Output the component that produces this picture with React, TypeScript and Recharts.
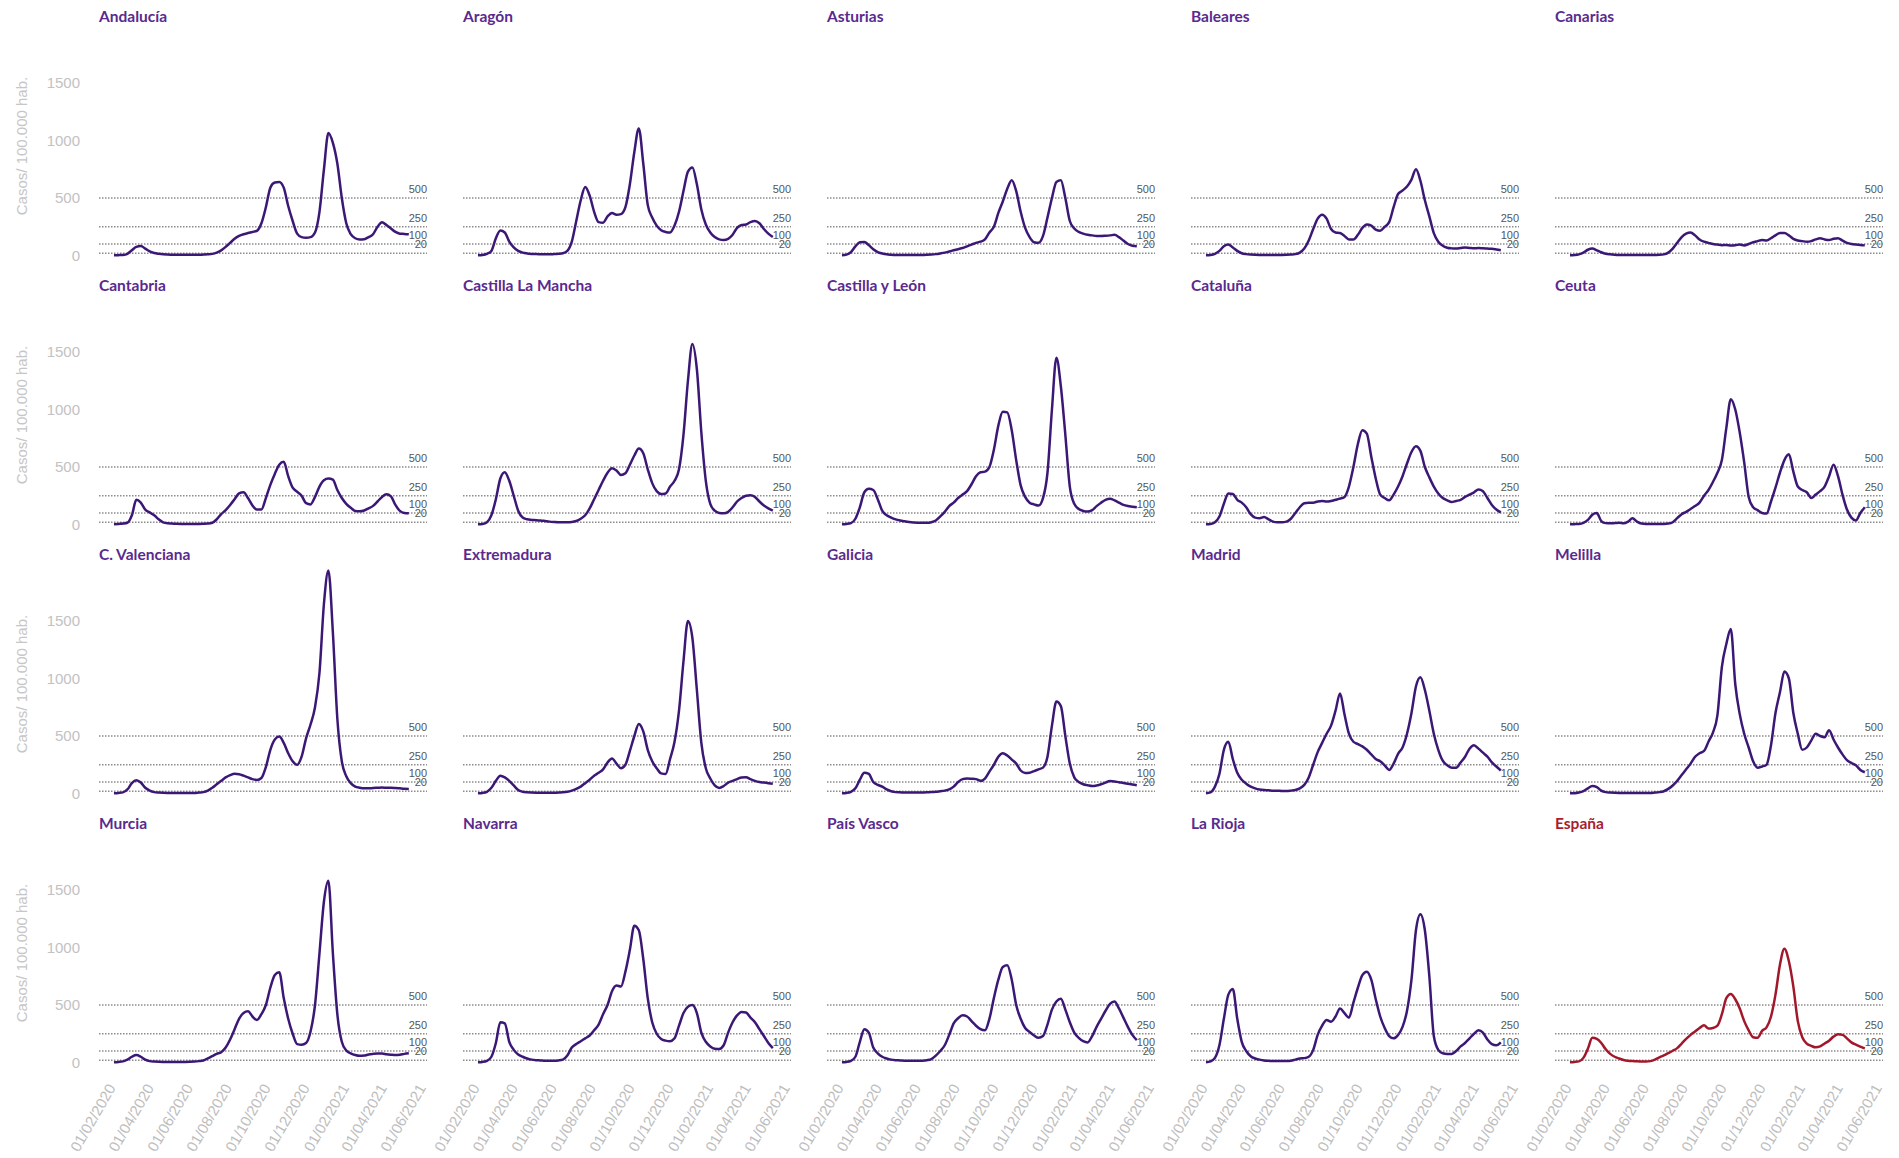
import React from 'react';
import { LineChart, Line, XAxis, YAxis, ReferenceLine } from 'recharts';

// Weekly values (casos / 100.000 hab.), one point every 7 days from 12/02/2020
const andalucia = [
    2, 3, 5, 15, 45, 75, 82, 60, 35, 22,
    15, 10, 8, 7, 6, 6, 6, 6, 6, 6,
    8, 10, 14, 25, 45, 75, 110, 145, 170, 185,
    195, 205, 215, 280, 420, 590, 635, 640, 590, 430,
    300, 190, 160, 155, 160, 200, 380, 750, 1065, 980,
    800, 500, 280, 185, 150, 140, 142, 160, 185, 250,
    290, 265, 235, 205, 190, 188, 185];
const aragon = [
    2, 5, 15, 40, 150, 218, 200, 120, 70, 40,
    25, 18, 14, 12, 11, 10, 10, 12, 15, 20,
    40, 120, 300, 480, 595, 520, 380, 290, 285, 340,
    370, 355, 360, 420, 620, 900, 1105, 800, 440, 330,
    260, 220, 205, 200, 260, 380, 560, 730, 765, 620,
    400, 270, 200, 160, 140, 135, 145, 180, 240, 265,
    270, 290, 300, 280, 230, 190, 160];
const asturias = [
    2, 8, 30, 80, 115, 118, 90, 55, 30, 18,
    10, 7, 5, 4, 4, 4, 4, 4, 5, 6,
    8, 12, 18, 25, 35, 45, 55, 65, 80, 95,
    110, 120, 140, 200, 250, 370, 470, 580, 655, 560,
    380, 240, 160, 115, 110, 170, 330, 500, 640, 655,
    500, 300, 235, 205, 190, 180, 175, 170, 170, 172,
    175, 180, 160, 130, 100, 85, 80];
const baleares = [
    2, 5, 15, 40, 80, 95, 70, 40, 20, 12,
    8, 6, 5, 5, 5, 5, 5, 5, 6, 8,
    12, 25, 60, 130, 230, 320, 355, 320, 230, 200,
    195, 170, 140, 140, 180, 240, 270, 260, 225, 215,
    250, 290, 420, 535, 565, 600, 660, 750, 650, 480,
    340, 195, 120, 85, 68, 62, 60, 65, 70, 66,
    62, 65, 62, 60, 58, 52, 45];
const canarias = [
    2, 4, 10, 25, 50, 60, 45, 28, 15, 10,
    7, 5, 4, 4, 4, 4, 4, 4, 4, 5,
    6, 10, 25, 60, 110, 160, 190, 200, 175, 140,
    120, 110, 100, 95, 90, 92, 88, 90, 95, 88,
    100, 115, 125, 135, 130, 150, 175, 195, 195, 175,
    145, 130, 125, 120, 125, 140, 150, 140, 135, 145,
    150, 130, 110, 100, 95, 92, 88];
const cantabria = [
    2, 5, 8, 15, 80, 215, 190, 130, 105, 80,
    45, 18, 10, 8, 6, 5, 5, 5, 5, 5,
    6, 8, 15, 45, 90, 125, 170, 220, 270, 280,
    230, 165, 130, 130, 230, 345, 440, 520, 545, 420,
    320, 285, 250, 185, 175, 240, 330, 385, 400, 390,
    300, 230, 180, 145, 118, 115, 122, 140, 162, 200,
    240, 262, 245, 170, 118, 100, 97];
const castillaLaMancha = [
    2, 5, 20, 80, 220, 400, 455, 380, 250, 120,
    60, 45, 40, 38, 35, 30, 25, 22, 20, 20,
    20, 22, 30, 50, 80, 140, 220, 300, 380, 450,
    490, 470, 430, 445, 520, 600, 660, 620, 480, 360,
    290, 265, 270, 330, 380, 480, 780, 1250, 1570, 1350,
    800, 380, 180, 120, 100, 98, 110, 150, 200, 230,
    250, 255, 240, 200, 165, 140, 120];
const castillaYLeon = [
    2, 5, 12, 50, 150, 280, 310, 300, 220, 120,
    80, 60, 45, 35, 28, 22, 18, 16, 15, 15,
    20, 35, 70, 110, 160, 190, 230, 260, 290, 350,
    420, 455, 460, 500, 650, 860, 980, 975, 820, 560,
    340, 240, 190, 175, 165, 230, 450, 1000, 1450, 1200,
    780, 330, 180, 135, 118, 112, 125, 160, 190, 215,
    225, 210, 190, 170, 160, 155, 150];
const cataluna = [
    2, 5, 20, 70, 180, 270, 265, 215, 190, 150,
    90, 60, 55, 65, 45, 25, 20, 20, 25, 50,
    100, 150, 185, 190, 190, 200, 205, 200, 205, 215,
    225, 240, 330, 500, 700, 820, 790, 590, 400, 260,
    230, 210, 260, 330, 420, 530, 630, 680, 640, 500,
    410, 330, 270, 230, 210, 195, 205, 215, 240, 260,
    280, 305, 290, 230, 170, 130, 105];
const ceuta = [
    2, 3, 5, 15, 40, 85, 100, 30, 12, 10,
    12, 15, 10, 25, 55, 25, 8, 5, 5, 5,
    5, 5, 8, 20, 55, 90, 110, 135, 160, 190,
    250, 300, 370, 450, 560, 840, 1090, 1000, 800, 540,
    240, 150, 125, 100, 95, 200, 320, 450, 560, 610,
    460, 330, 300, 280, 230, 260, 290, 330, 420, 520,
    420, 260, 130, 60, 35, 100, 150];
const valenciana = [
    2, 5, 10, 35, 90, 115, 95, 50, 25, 12,
    8, 6, 5, 5, 5, 5, 5, 5, 5, 8,
    12, 25, 50, 80, 110, 140, 160, 172, 168, 155,
    140, 125, 118, 135, 230, 380, 470, 495, 440, 350,
    280, 250, 320, 480, 600, 750, 1050, 1650, 1940, 1400,
    650, 280, 150, 90, 60, 50, 45, 45, 48, 50,
    52, 50, 50, 48, 45, 42, 40];
const extremadura = [
    2, 5, 15, 50, 110, 155, 140, 110, 70, 30,
    15, 10, 8, 7, 7, 6, 6, 6, 8, 10,
    15, 25, 40, 60, 90, 120, 155, 180, 210, 270,
    305, 260, 220, 250, 370, 500, 605, 540, 380, 280,
    220, 175, 170, 300, 450, 720, 1150, 1500, 1350, 900,
    440, 220, 130, 70, 48, 65, 95, 110, 125, 140,
    142, 125, 110, 100, 95, 90, 85];
const galicia = [
    2, 5, 15, 45, 120, 180, 170, 100, 75, 60,
    35, 20, 12, 10, 8, 8, 8, 8, 9, 10,
    12, 15, 20, 25, 35, 60, 100, 125, 130, 128,
    125, 110, 130, 190, 250, 320, 350, 330, 295, 260,
    200, 178, 180, 195, 210, 225, 320, 590, 800, 760,
    500, 260, 140, 100, 80, 72, 65, 70, 80, 95,
    108, 105, 98, 92, 85, 78, 72];
const madrid = [
    2, 10, 60, 170, 380, 450, 300, 180, 120, 85,
    60, 45, 35, 30, 28, 25, 25, 22, 22, 25,
    30, 45, 75, 140, 250, 360, 440, 520, 590, 720,
    870, 690, 520, 450, 430, 410, 380, 340, 300, 280,
    245, 205, 260, 345, 400, 520, 700, 930, 1010, 900,
    720, 520, 380, 285, 245, 225, 225, 270, 320, 390,
    420, 390, 355, 320, 270, 235, 200];
const melilla = [
    2, 3, 8, 20, 45, 65, 55, 25, 12, 8,
    6, 5, 5, 5, 5, 5, 5, 5, 5, 8,
    12, 20, 40, 70, 110, 160, 210, 260, 320, 350,
    370, 450, 530, 680, 1100, 1300, 1430, 950, 690, 520,
    400, 280, 225, 235, 250, 420, 700, 880, 1060, 1000,
    700, 520, 380, 400, 460, 520, 500, 490, 550, 470,
    400, 340, 290, 265, 245, 205, 185];
const murcia = [
    2, 5, 10, 25, 50, 65, 50, 25, 12, 8,
    6, 5, 5, 5, 5, 5, 5, 6, 8, 12,
    18, 35, 55, 75, 90, 130, 200, 290, 380, 430,
    445, 400, 370, 420, 500, 650, 760, 785, 560, 380,
    250, 160, 155, 170, 270, 500, 950, 1400, 1580, 950,
    420, 180, 105, 80, 65, 58, 60, 70, 75, 78,
    78, 72, 68, 65, 68, 75, 80];
const navarra = [
    2, 5, 15, 50, 170, 350, 340, 180, 110, 70,
    50, 35, 25, 20, 18, 15, 15, 15, 18, 25,
    60, 130, 160, 185, 210, 235, 280, 330, 420, 500,
    620, 670, 660, 790, 980, 1190, 1150, 900, 560, 350,
    250, 205, 190, 185, 210, 320, 430, 485, 500, 430,
    260, 180, 140, 120, 118, 150, 260, 350, 410, 440,
    435, 390, 350, 290, 230, 170, 125];
const paisVasco = [
    2, 5, 15, 50, 180, 290, 260, 130, 80, 50,
    35, 25, 20, 18, 16, 15, 15, 15, 16, 20,
    30, 60, 100, 150, 240, 340, 385, 410, 400, 360,
    320, 290, 280, 380, 560, 720, 830, 845, 720, 500,
    380, 300, 265, 235, 215, 230, 330, 460, 530, 555,
    460, 350, 260, 215, 185, 175, 230, 310, 380, 450,
    510, 530, 470, 390, 310, 240, 195];
const laRioja = [
    2, 10, 40, 150, 380, 590, 640, 380, 180, 100,
    55, 35, 25, 18, 15, 12, 12, 12, 12, 15,
    25, 35, 38, 50, 110, 240, 320, 370, 355, 400,
    470, 430, 390, 520, 650, 760, 790, 720, 550, 400,
    300, 230, 210, 240, 310, 450, 720, 1150, 1290, 1150,
    750, 230, 110, 80, 75, 75, 100, 140, 170, 210,
    250, 280, 260, 200, 160, 150, 175];
const espana = [
    2, 5, 10, 40, 120, 215, 205, 170, 115, 75,
    50, 35, 22, 15, 12, 10, 9, 8, 12, 25,
    45, 62, 82, 102, 125, 165, 205, 240, 270, 300,
    325, 295, 300, 320, 420, 560, 595, 550, 470, 360,
    280, 220, 215, 275, 305, 400, 590, 850, 990, 880,
    660, 360, 220, 165, 145, 132, 140, 165, 190, 225,
    245, 240, 210, 175, 155, 138, 122];

const regionNames = [
    'Andalucía', 'Aragón', 'Asturias', 'Baleares', 'Canarias',
    'Cantabria', 'Castilla La Mancha', 'Castilla y León', 'Cataluña', 'Ceuta',
    'C. Valenciana', 'Extremadura', 'Galicia', 'Madrid', 'Melilla',
    'Murcia', 'Navarra', 'País Vasco', 'La Rioja', 'España'
];
const regionValues = [
    andalucia, aragon, asturias, baleares, canarias,
    cantabria, castillaLaMancha, castillaYLeon, cataluna, ceuta,
    valenciana, extremadura, galicia, madrid, melilla,
    murcia, navarra, paisVasco, laRioja, espana
];

const firstDate = '12/02/2020';
const tickDates = [
    '01/02/2020', '01/04/2020', '01/06/2020', '01/08/2020', '01/10/2020',
    '01/12/2020', '01/02/2021', '01/04/2021', '01/06/2021'
];
const yTicks = [0, 500, 1000, 1500];
const thresholds = [20, 100, 250, 500];

// day number counted from 01/01/2020
const dayNumber = (s: string) => {
    const [d, m, y] = s.split('/').map(Number);
    return Math.round((Date.UTC(y, m - 1, d) - Date.UTC(2020, 0, 1)) / 86400000);
};
const startDay = dayNumber(firstDate);
const tickDays = tickDates.map(dayNumber);
const tickLabel = (d: number) => tickDates[tickDays.indexOf(d)] ?? '';

const COL_W = 364;
const ROW_H = 269;

// threshold value written right-aligned just above its dotted line
const thresholdLabel = (value: number) => (props: any) => {
    const { viewBox } = props;
    return (
        <text
            x={viewBox.x + viewBox.width}
            y={viewBox.y - 5}
            textAnchor="end"
            fill="#555555"
            fontSize={11}
            fontFamily="Liberation Sans"
        >
            {value}
        </text>
    );
};

const Panel = ({ index }: { index: number }) => {
    const col = index % 5;
    const row = Math.floor(index / 5);
    const isSpain = regionNames[index] === 'España';
    const bottomRow = row === 3;
    const firstCol = col === 0;
    const data = regionValues[index].map((v, i) => ({ day: startDay + 7 * i, v }));
    const lineColor = isSpain ? '#a2182b' : '#3c1876';
    const titleColor = isSpain ? '#a81d30' : '#5a2a8e';

    return (
        <div style={{ position: 'absolute', left: col * COL_W, top: row * ROW_H }}>
            <div
                style={{
                    position: 'absolute', left: 99, top: 7, whiteSpace: 'nowrap',
                    fontFamily: 'Lato', fontWeight: 700, fontSize: 15.5, color: titleColor
                }}
            >
                {regionNames[index]}
            </div>
            {firstCol && (
                <div
                    style={{
                        position: 'absolute', left: 21, top: 146, whiteSpace: 'nowrap',
                        transform: 'translate(-50%, -50%) rotate(-90deg)',
                        fontFamily: 'Liberation Sans', fontSize: 15, color: '#c6c6c6'
                    }}
                >
                    Casos/ 100.000 hab.
                </div>
            )}
            <LineChart
                width={430}
                height={bottomRow ? 360 : 270}
                data={data}
                margin={{ top: 25.5, right: 3, bottom: bottomRow ? 4.5 : 14.5, left: firstCol ? 44 : 99 }}
            >
                <XAxis
                    type="number"
                    dataKey="day"
                    domain={[18.5, 532.5]}
                    ticks={tickDays}
                    interval={0}
                    tickFormatter={tickLabel}
                    hide={!bottomRow}
                    height={100}
                    angle={-60}
                    textAnchor="end"
                    axisLine={false}
                    tickLine={false}
                    tickMargin={14}
                    allowDataOverflow
                    tick={{ fill: '#bdbdbd', fontSize: 15, fontFamily: 'Liberation Sans' }}
                />
                <YAxis
                    type="number"
                    domain={[0, 2000]}
                    ticks={yTicks}
                    hide={!firstCol}
                    width={55}
                    axisLine={false}
                    tickLine={false}
                    tickMargin={13}
                    tick={{ fill: '#c2c2c2', fontSize: 15, fontFamily: 'Liberation Sans' }}
                />
                {thresholds.map((t) => (
                    <ReferenceLine
                        key={t}
                        y={t}
                        stroke="#8c8c8c"
                        strokeWidth={1.5}
                        strokeDasharray="1.5 1.5"
                        label={{ content: thresholdLabel(t) }}
                    />
                ))}
                <Line
                    type="monotone"
                    dataKey="v"
                    stroke={lineColor}
                    strokeWidth={2.5}
                    dot={false}
                    isAnimationActive={false}
                />
            </LineChart>
        </div>
    );
};

export default function App() {
    return (
        <div style={{ position: 'absolute', left: 0, top: 0, width: 1899, height: 1158, background: '#ffffff', overflow: 'hidden' }}>
            {regionNames.map((name, i) => (
                <Panel key={name} index={i} />
            ))}
        </div>
    );
}
